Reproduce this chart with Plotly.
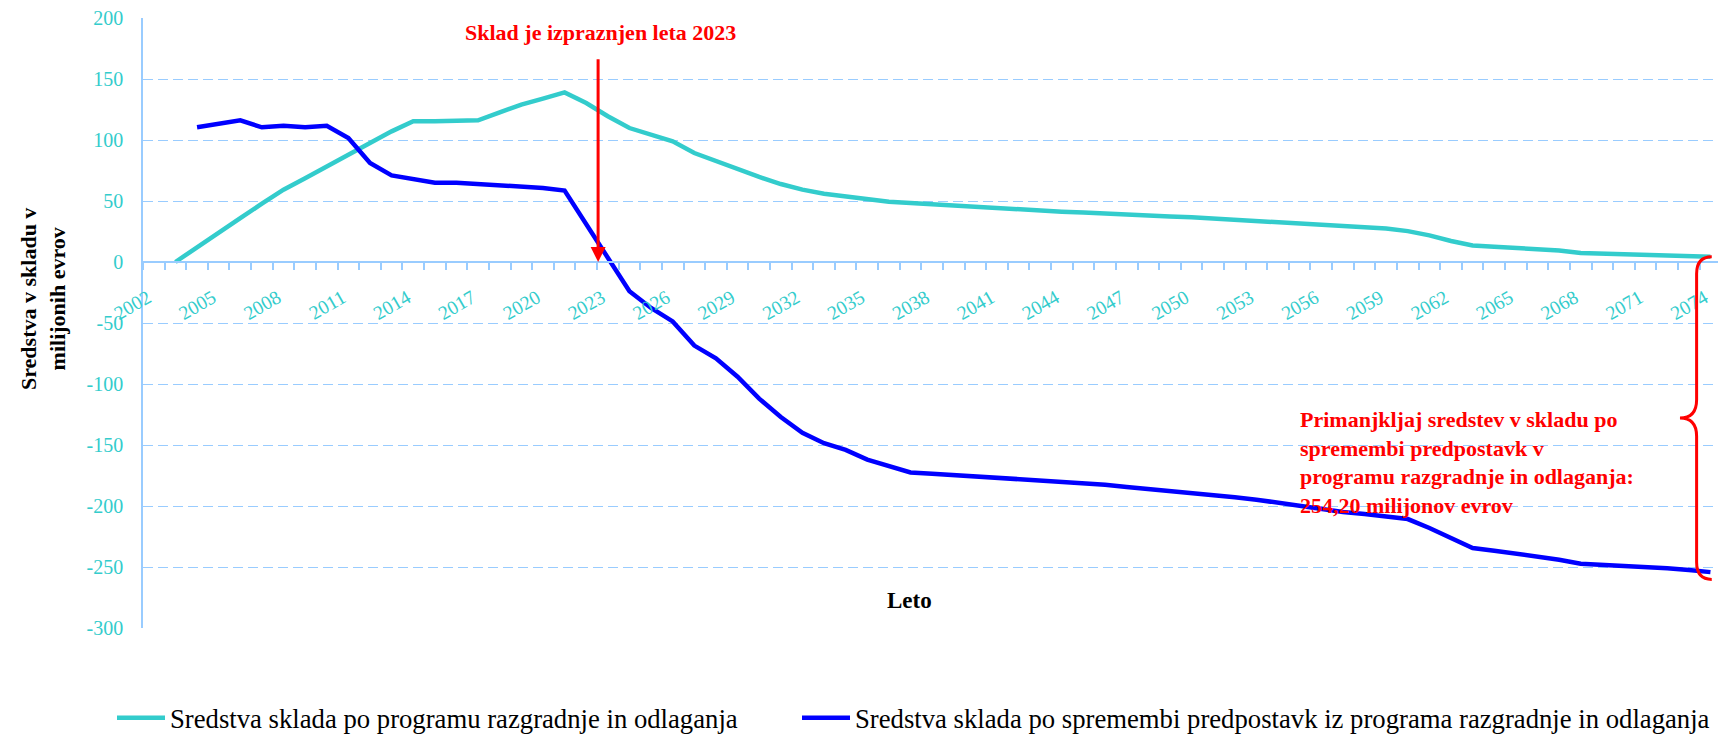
import plotly.graph_objects as go

# ---------------- data ----------------
YEARS = list(range(2002, 2075))
TICK_YEARS = list(range(2002, 2075, 3))
TICK_TEXT = [str(y) for y in TICK_YEARS]
Y_TICKS = list(range(-300, 201, 50))
Y_TICK_TEXT = [str(v) for v in Y_TICKS]

GREEN_NAME = "Sredstva sklada po programu razgradnje in odlaganja"
BLUE_NAME = "Sredstva sklada po spremembi predpostavk iz programa razgradnje in odlaganja"

GREEN = [None, 0, 12.3, 24, 36, 47.8, 59.3, 68.6, 77.9, 87.2,
         97.5, 107.1, 115.3, 115.3, 115.3, 116.1, 122.7, 129, 133.9, 139,
         130.3, 119.5, 109.8, 104.3, 98.9, 89.3, 82.5, 76.5, 69.7, 63.9,
         59.3, 56, 53.8, 51.6, 49.4, 48.3, 47.2, 46.1, 45.1, 43.9,
         42.9, 41.8, 41.2, 40.5, 39.5, 38.5, 37.8, 37.2, 36.6, 35.5,
         34.4, 33.3, 32.2, 31.1, 30.6, 29.8, 28.7, 27.5, 25.3, 21.8,
         17.2, 13.6, 12.5, 11.5, 10.3, 9.5, 7.4, 6.8, 6.6, 6.0,
         5.6, 4.6, 4.4]

BLUE = [None, None, 110.4, 113.4, 116.1, 110.4, 111.7, 110.4, 111.7, 101.6,
        81.1, 71, 68.3, 65, 65, 63.9, 62.8, 62, 60.7, 58.5,
        30.6, 3.8, -24, -37.7, -48.7, -68.5, -79, -94, -112, -127,
        -140, -148.5, -154, -162, -167.5, -172.5, -173.5, -174.6, -175.7, -176.8,
        -177.9, -179, -180.1, -181.2, -182.5, -184.5, -186, -187.7, -189.6, -191.3,
        -192.9, -194.8, -197.5, -200.3, -202.8, -204.9, -206.6, -208.5, -210.7, -218,
        -226.2, -234.4, -236.6, -238.8, -241.3, -244, -247.3, -248.1, -248.7, -249.8,
        -251, -252.5, -254.2]

DEPLETION_TEXT = "Sklad je izpraznjen leta 2023"
DEFICIT_TEXT = ("Primanjkljaj sredstev v skladu po<br>spremembi predpostavk v<br>"
                "programu razgradnje in odlaganja:<br>254,20 milijonov evrov")

# ---------------- style ----------------
FONT = "Liberation Serif, serif"
CYAN = "#33CCCC"
BLUE_C = "#0000FF"
GRID = "#99CCFF"
RED = "#FF0000"

W, H = 1718, 736
ML, MR, MT, MB = 143, 0, 18, 108
PW = W - ML - MR
PH = H - MT - MB
STEP = 21.62  # px per year
X0 = 2001.5
X1 = X0 + PW / STEP
Y0, Y1 = -300, 200

fig = go.Figure()
fig.add_trace(go.Scatter(x=YEARS, y=GREEN, mode="lines", name=GREEN_NAME,
                         line=dict(color=CYAN, width=4.5), legend="legend"))
fig.add_trace(go.Scatter(x=YEARS, y=BLUE, mode="lines", name=BLUE_NAME,
                         line=dict(color=BLUE_C, width=4.5), legend="legend2"))

zero_pos = (0 - Y0) / (Y1 - Y0)
LEG_Y = (MT + PH - 718) / PH
LEG_FONT = dict(family=FONT, size=26.7, color="black")

fig.update_layout(
    width=W, height=H,
    margin=dict(l=ML, r=MR, t=MT, b=MB, autoexpand=False),
    paper_bgcolor="white", plot_bgcolor="white",
    font=dict(family=FONT, color="black"),
    xaxis=dict(
        range=[X0, X1], anchor="free", position=zero_pos, automargin=False,
        tickmode="array", tickvals=TICK_YEARS, ticktext=TICK_TEXT,
        tickangle=-30, ticks="", showgrid=False, zeroline=False,
        showline=True, linecolor=GRID, linewidth=2,
        tickfont=dict(family=FONT, size=19.5, color=CYAN),
        ticklabelstandoff=16, ticklabelshift=-6,
        minor=dict(tickmode="linear", tick0=X0, dtick=1, ticks="outside",
                   ticklen=7, tickcolor=GRID, tickwidth=1.5, showgrid=False),
    ),
    yaxis=dict(
        range=[Y0, Y1], tickmode="array", tickvals=Y_TICKS, ticktext=Y_TICK_TEXT,
        automargin=False,
        showgrid=True, gridcolor=GRID, gridwidth=1, griddash="10px,5px",
        zeroline=False, showline=True, linecolor=GRID, linewidth=1.5,
        ticks="", ticklabelstandoff=14,
        tickfont=dict(family=FONT, size=20, color=CYAN),
    ),
    legend=dict(orientation="h", x=(112 - ML) / PW, xanchor="left",
                y=LEG_Y, yanchor="middle", itemwidth=48,
                font=LEG_FONT, bgcolor="rgba(0,0,0,0)"),
    legend2=dict(orientation="h", x=(797 - ML) / PW, xanchor="left",
                 y=LEG_Y, yanchor="middle", itemwidth=48,
                 font=LEG_FONT, bgcolor="rgba(0,0,0,0)"),
    showlegend=True,
)

# axis titles as annotations
fig.add_annotation(text="<b>Sredstva v skladu v<br>milijonih evrov</b>",
                   xref="paper", yref="paper", textangle=-90,
                   x=(43 - ML) / PW, y=(MT + PH - 299) / PH,
                   xanchor="center", yanchor="middle", showarrow=False,
                   font=dict(family=FONT, size=22, color="black"))
fig.add_annotation(text="<b>Leto</b>", xref="paper", yref="paper",
                   x=(909 - ML) / PW, y=(MT + PH - 600) / PH,
                   xanchor="center", yanchor="middle", showarrow=False,
                   font=dict(family=FONT, size=23, color="black"))

# depletion arrow and label
ARROW_X = 2022.55
fig.add_annotation(x=ARROW_X, y=0, xref="x", yref="y",
                   ax=ARROW_X, ay=167.5, axref="x", ayref="y",
                   text="", showarrow=True, arrowhead=2, arrowsize=1,
                   arrowwidth=3, arrowcolor=RED, standoff=0, startstandoff=0)
fig.add_annotation(x=2022.68, y=188, xref="x", yref="y",
                   text="<b>" + DEPLETION_TEXT + "</b>", showarrow=False,
                   bgcolor="white", borderpad=5,
                   font=dict(family=FONT, size=22, color=RED))

# deficit text
fig.add_annotation(x=2054.92, y=-164.5, xref="x", yref="y", xanchor="left",
                   yanchor="middle", align="left", showarrow=False,
                   text="<b>" + DEFICIT_TEXT + "</b>",
                   font=dict(family=FONT, size=22, color=RED))

# curly brace spanning from green end to blue end
last = YEARS[-1]
xt = last + 0.06
xv = last - 0.64
xp = last - 1.41
ytop = GREEN[-1]
ybot = BLUE[-1] - 6
ymid = (ytop + ybot) / 2
d1, d2 = 14, 15
path = (f"M{xt},{ytop} Q{xv},{ytop} {xv},{ytop - d1} "
        f"L{xv},{ymid + d2} Q{xv},{ymid} {xp},{ymid} "
        f"Q{xv},{ymid} {xv},{ymid - d2} "
        f"L{xv},{ybot + d1} Q{xv},{ybot} {xt},{ybot}")
fig.add_shape(type="path", path=path, xref="x", yref="y",
              line=dict(color=RED, width=3), layer="above")

fig.write_html(
    "out.html",
    config={"displayModeBar": False},
    post_script="document.body.style.margin='0px';document.body.style.overflow='hidden';",
)
